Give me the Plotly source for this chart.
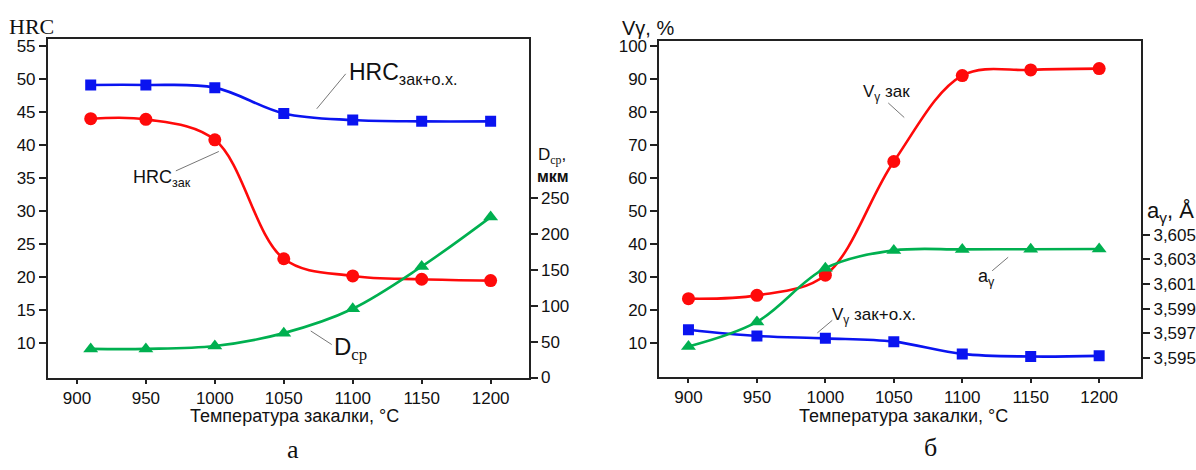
import plotly.graph_objects as go

W, H = 1196, 470

# ---------------- data: left chart (a) ----------------
t_left = [910, 950, 1000, 1050, 1100, 1150, 1200]
hrc_zak_ox = [49.1, 49.1, 48.7, 44.8, 43.8, 43.6, 43.6]
hrc_zak = [44.0, 43.9, 40.8, 22.8, 20.2, 19.7, 19.5]
d_sr = [40, 40, 44, 62, 96, 155, 224]

# ---------------- data: right chart (б) ----------------
t_right = [900, 950, 1000, 1050, 1100, 1150, 1200]
v_zak = [23.5, 24.5, 30.6, 65.0, 91.0, 92.7, 93.1]
v_zak_ox = [14.1, 12.2, 11.5, 10.5, 6.8, 6.0, 6.2]
a_gamma = [3.59594, 3.59793, 3.60228, 3.60372, 3.60380, 3.60381, 3.60383]

x_ticks = [900, 950, 1000, 1050, 1100, 1150, 1200]
hrc_ticks = [10, 15, 20, 25, 30, 35, 40, 45, 50, 55]
d_ticks = [0, 50, 100, 150, 200, 250]
v_ticks = [10, 20, 30, 40, 50, 60, 70, 80, 90, 100]
a_ticks = [3.595, 3.597, 3.599, 3.601, 3.603, 3.605]
a_labels = ["3,595", "3,597", "3,599", "3,601", "3,603", "3,605"]

BLUE = "#0a14f0"
RED = "#ff0a0a"
GREEN = "#00b050"
AX = "#222222"
SANS = "Liberation Sans, Arial, sans-serif"
SERIF = "Liberation Serif, Times New Roman, serif"

def pxx(x):
    return x / W

def pxy(y):
    return 1 - y / H

fig = go.Figure()

ln = dict(width=2.6, shape="spline", smoothing=1.0)

fig.add_trace(go.Scatter(x=t_left, y=hrc_zak_ox, mode="lines+markers", xaxis="x", yaxis="y",
                         line=dict(color=BLUE, **ln), marker=dict(symbol="square", color=BLUE, size=11)))
fig.add_trace(go.Scatter(x=t_left, y=hrc_zak, mode="lines+markers", xaxis="x", yaxis="y",
                         line=dict(color=RED, **ln), marker=dict(symbol="circle", color=RED, size=13)))
fig.add_trace(go.Scatter(x=t_left, y=d_sr, mode="lines+markers", xaxis="x", yaxis="y2",
                         line=dict(color=GREEN, **ln), marker=dict(symbol="triangle-up", color=GREEN, size=13)))

fig.add_trace(go.Scatter(x=t_right, y=v_zak, mode="lines+markers", xaxis="x2", yaxis="y3",
                         line=dict(color=RED, **ln), marker=dict(symbol="circle", color=RED, size=13)))
fig.add_trace(go.Scatter(x=t_right, y=v_zak_ox, mode="lines+markers", xaxis="x2", yaxis="y3",
                         line=dict(color=BLUE, **ln), marker=dict(symbol="square", color=BLUE, size=11)))
fig.add_trace(go.Scatter(x=t_right, y=a_gamma, mode="lines+markers", xaxis="x2", yaxis="y4",
                         line=dict(color=GREEN, **ln), marker=dict(symbol="triangle-up", color=GREEN, size=13)))

tickfont = dict(family=SANS, size=17, color="#111")
axcommon = dict(showline=True, linecolor=AX, linewidth=2, ticks="outside", ticklen=7,
                tickwidth=1.5, tickcolor=AX, showgrid=False, zeroline=False, tickfont=tickfont)
xcommon = dict(axcommon, ticklen=4)

left_dom_x = [pxx(48), pxx(529)]
left_dom_y = [pxy(385), pxy(36)]
right_dom_x = [pxx(660), pxx(1142)]
right_dom_y = [pxy(384.3), pxy(38.3)]

fig.update_layout(
    width=W, height=H, margin=dict(l=0, r=0, t=0, b=0),
    paper_bgcolor="white", plot_bgcolor="white", showlegend=False,
    xaxis=dict(domain=left_dom_x, anchor="y", range=[879, 1227.5], tickvals=x_ticks,
               mirror=True, **xcommon),
    yaxis=dict(domain=left_dom_y, anchor="x", range=[4.83, 56.07], tickvals=hrc_ticks, **axcommon),
    yaxis2=dict(overlaying="y", side="right", anchor="x", range=[0, 472.8], tickvals=d_ticks, **axcommon),
    xaxis2=dict(domain=right_dom_x, anchor="y3", range=[878.8, 1230.6], tickvals=x_ticks,
                mirror=True, **xcommon),
    yaxis3=dict(domain=right_dom_y, anchor="x2", range=[-0.15, 101.4], tickvals=v_ticks, **axcommon),
    yaxis4=dict(overlaying="y3", side="right", anchor="x2", range=[3.59348, 3.62066],
                tickvals=a_ticks, ticktext=a_labels, **axcommon),
)

def ann(text, x, y, size=15, family=SANS, xanchor="left", color="#111"):
    fig.add_annotation(text=text, x=pxx(x), y=pxy(y), xref="paper", yref="paper",
                       xanchor=xanchor, yanchor="middle", showarrow=False,
                       font=dict(family=family, size=size, color=color))

def leader(x0, y0, x1, y1):
    fig.add_shape(type="line", xref="paper", yref="paper",
                  x0=pxx(x0), y0=pxy(y0), x1=pxx(x1), y1=pxy(y1),
                  line=dict(color="#777", width=1))

# left chart labels
ann("HRC", 7, 23, size=22, family=SERIF)
ann("HRC<sub>зак+о.х.</sub>", 347, 72, size=23)
leader(317, 108, 346, 72)
ann("HRC<sub>зак</sub>", 131, 180, size=18)
leader(219, 152, 176, 172)
ann('D<sub><span style="font-family:Liberation Serif">ср</span></sub>', 332, 355, size=24)
leader(311, 337, 332, 351)
ann('D<sub><span style="font-family:Liberation Serif">ср</span></sub>,', 536, 157, size=17)
ann("<b>мкм</b>", 535, 178, size=16)
ann("Температура закалки, °C", 295, 425, size=18, xanchor="center")
ann("а", 293, 459, size=26, family=SERIF, xanchor="center")

# right chart labels
ann("Vγ, %", 621, 25, size=20)
ann("V<sub>γ</sub> зак", 862, 92, size=17)
leader(889, 102, 905, 117)
ann("V<sub>γ</sub> зак+о.х.", 831, 322, size=17)
leader(818, 339, 833, 326)
ann("a<sub>γ</sub>", 977, 282, size=18)
leader(993, 275, 1009, 261)
ann("a<sub>γ</sub>, Å", 1146, 214, size=22)
ann("Температура закалки, °C", 904, 425, size=18, xanchor="center")
ann("б", 931, 457, size=26, family=SERIF, xanchor="center")

fig.write_html("out.html")
